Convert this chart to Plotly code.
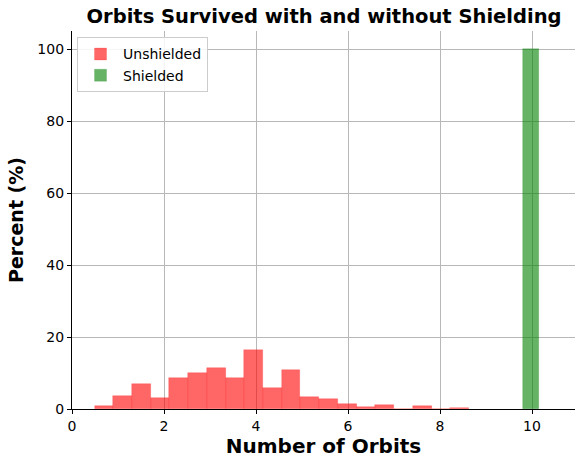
import plotly.graph_objects as go

# Unshielded histogram (percent per bin)
unshielded_bin_start = 0.49
unshielded_bin_width = 0.407
unshielded_pct = [0.8, 3.7, 7.0, 3.1, 8.7, 9.9, 11.5, 8.5, 16.3, 5.9, 10.9,
                  3.4, 2.9, 1.3, 0.6, 1.2, 0.0, 0.8, 0.05, 0.2]

# Shielded histogram
shielded_centers = [9.985]
shielded_width = 0.35
shielded_pct = [100]

x_ticks = [0, 2, 4, 6, 8, 10]
y_ticks = [0, 20, 40, 60, 80, 100]

unshielded_x = [unshielded_bin_start + (i + 0.5) * unshielded_bin_width
                for i in range(len(unshielded_pct))]

fig = go.Figure()
fig.add_trace(go.Bar(
    x=unshielded_x, y=unshielded_pct, width=unshielded_bin_width,
    name="Unshielded", marker=dict(color="rgba(255,0,0,0.6)",
                                   line=dict(width=0.6, color="rgba(255,0,0,0.3)"))
))
fig.add_trace(go.Bar(
    x=shielded_centers, y=shielded_pct, width=shielded_width,
    name="Shielded", marker=dict(color="rgba(0,128,0,0.6)",
                                 line=dict(width=0.6, color="rgba(0,128,0,0.3)"))
))

font = "DejaVu Sans"
fig.update_layout(
    width=575, height=458,
    margin=dict(l=72, r=0, t=31, b=49, autoexpand=False),
    plot_bgcolor="white", paper_bgcolor="white",
    barmode="overlay", bargap=0,
    font=dict(family=font, size=14, color="black"),
    title=dict(text="<b>Orbits Survived with and without Shielding</b>",
               x=324/575, xanchor="center", y=1 - 16/458, yanchor="middle",
               font=dict(family=font, size=19.5, color="black")),
    legend=dict(x=0.010, y=0.983, xanchor="left", yanchor="top",
                bgcolor="rgba(255,255,255,0.85)", bordercolor="#cccccc",
                borderwidth=1, font=dict(family=font, size=14),
                itemwidth=35, tracegroupgap=2),
    showlegend=True,
)
fig.update_xaxes(
    range=[0, (575 - 72) / 46], tickvals=x_ticks, automargin=False,
    showgrid=True, gridcolor="#b8b8b8", gridwidth=1,
    showline=True, linecolor="black", linewidth=1.2,
    ticks="outside", ticklen=4, tickcolor="black",
    zeroline=False,
    tickfont=dict(family=font, size=14, color="black"),
    title=dict(text="<b>Number of Orbits</b>", standoff=3,
               font=dict(family=font, size=20, color="black")),
)
fig.update_yaxes(
    range=[0, 105], tickvals=y_ticks, automargin=False,
    showgrid=True, gridcolor="#b8b8b8", gridwidth=1,
    showline=True, linecolor="black", linewidth=1.2,
    ticks="outside", ticklen=4, tickcolor="black",
    zeroline=False,
    tickfont=dict(family=font, size=14, color="black"),
    title=dict(text="<b>Percent (%)</b>", standoff=8,
               font=dict(family=font, size=19, color="black")),
)

post = ("document.body.style.margin='0';document.body.style.overflow='hidden';"
        "var gd=document.getElementById('{plot_id}');"
        "Plotly.relayout(gd,{width:575,height:458});")
fig.write_html("out.html", config={"responsive": False, "displayModeBar": False},
               post_script=post)
